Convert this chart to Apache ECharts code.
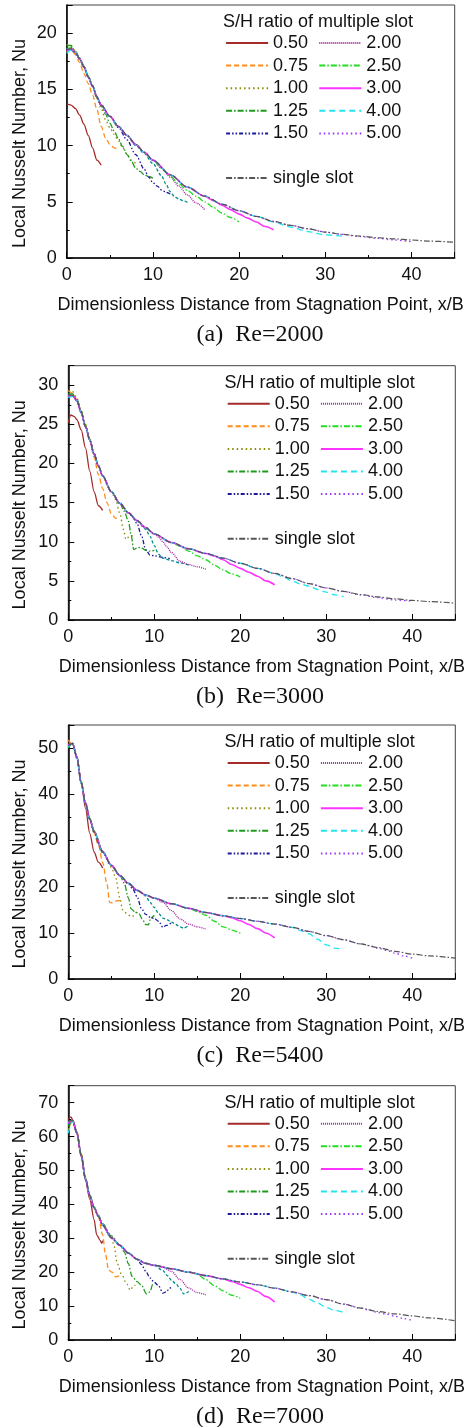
<!DOCTYPE html>
<html>
<head>
<meta charset="utf-8">
<script src="https://cdn.jsdelivr.net/npm/echarts@6/dist/echarts.min.js"></script>
<style>
  html, body { margin: 0; padding: 0; background: #fff; }
  #chart { width: 476px; height: 1427px; }
</style>
</head>
<body>
<div id="chart"></div>
<script>
// x/B positions shared by the single slot curves
const distX = [0,0.5,1,1.5,2,2.5,3,3.5,4,5,6,7,8,9,10,12,14,16,18,20,22,24,26,28,30,32,34,36,38,40,42,45];

// single slot, Nu per panel
const singleA = [18.5,18.6,18.3,17.7,17.0,16.1,15.3,14.3,13.6,12.6,11.7,10.9,10.1,9.4,8.7,7.4,6.3,5.5,4.8,4.2,3.7,3.25,2.9,2.6,2.3,2.1,1.95,1.8,1.7,1.6,1.5,1.4];
const singleB = [28.8,28.7,28.0,26.5,24.7,23.0,21.2,19.7,18.4,16.4,14.9,13.7,12.7,11.8,11.0,9.9,9.1,8.5,7.9,7.25,6.6,5.95,5.3,4.65,4.1,3.65,3.25,2.95,2.7,2.5,2.35,2.15];
const singleC = [50.5,51.0,48.0,42.5,38.0,34.6,31.9,29.4,27.5,24.6,22.4,20.7,19.2,18.2,17.5,16.3,15.3,14.4,13.7,13.1,12.5,11.9,11.2,10.3,9.4,8.5,7.6,6.8,6.0,5.4,5.0,4.5];
const singleD = [64.5,64.8,61.0,54.5,47.5,42.5,39.0,36.5,33.8,30.2,27.9,25.6,23.8,22.6,22.0,21.0,20.0,19.0,18.0,17.1,16.3,15.3,14.2,13.1,11.9,10.6,9.4,8.4,7.7,7.1,6.5,5.7];

// (a) Re=2000, multiple slot curves [x/B, Nu]
const a050 = [[0,13.7],[0.5,13.6],[1,13.3],[1.5,12.7],[2,11.9],[2.5,10.9],[3,9.8],[3.5,8.7],[4,8.25]];
const a075 = [[0,18.3],[0.5,18.5],[1,18.1],[1.5,17.4],[2,16.4],[2.5,15.5],[3,14.5],[3.5,13.2],[4,11.7],[4.5,10.7],[5,10.1],[5.5,9.8],[6,9.6]];
const a100 = [[0,19.0],[0.5,18.8],[1,18.4],[1.5,17.8],[2,17.0],[2.5,16.1],[3,15.2],[3.5,14.2],[4,13.3],[4.5,12.3],[5,11.6],[5.5,11.0],[6,10.4],[6.5,9.8],[7,9.2],[7.5,8.7],[8,8.4]];
const a125 = [[0,18.9],[0.5,18.9],[1,18.4],[1.5,17.8],[2,17.1],[2.5,16.2],[3,15.3],[3.5,14.4],[4,13.5],[4.5,12.8],[5,12.0],[5.5,11.3],[6,10.6],[6.5,9.9],[7,9.2],[7.5,8.6],[8,8.0],[8.5,7.7],[9,7.4],[9.5,7.25],[10,7.1]];
const a150 = [[0,18.6],[0.5,18.6],[1,18.3],[1.5,17.7],[2,17.0],[2.5,16.1],[3,15.3],[3.5,14.3],[4,13.6],[5,12.6],[6,11.6],[7,10.5],[8,9.2],[9,7.9],[9.5,7.2],[10,6.7],[10.5,6.4],[11,6.05],[11.5,5.85],[12,5.7]];
const a175 = [[0,18.4],[0.5,18.5],[1,18.2],[1.5,17.7],[2,17.0],[2.5,16.1],[3,15.3],[3.5,14.3],[4,13.6],[5,12.6],[6,11.7],[7,10.9],[8,10.0],[9,9.3],[10,8.4],[11,7.3],[11.5,6.6],[12,5.9],[12.5,5.45],[13,5.25],[13.5,5.1],[14,4.95]];
const a200 = [[0,18.5],[0.5,18.6],[1,18.3],[1.5,17.7],[2,17.0],[2.5,16.1],[3,15.3],[3.5,14.3],[4,13.6],[5,12.6],[6,11.7],[7,10.9],[8,10.1],[9,9.4],[10,8.7],[11,8.0],[12,7.2],[13,6.4],[14,5.6],[15,4.9],[16,4.3]];
const a250 = [[0,18.6],[0.5,18.7],[1,18.3],[1.5,17.7],[2,17.0],[2.5,16.1],[3,15.3],[3.5,14.3],[4,13.6],[5,12.6],[6,11.7],[7,10.9],[8,10.1],[9,9.4],[10,8.7],[11,8.0],[12,7.3],[13,6.6],[14,6.0],[15,5.5],[16,5.0],[17,4.5],[18,4.0],[19,3.6],[20,3.2]];
const a300 = [[0,18.4],[0.5,18.6],[1,18.3],[1.5,17.7],[2,17.0],[2.5,16.1],[3,15.3],[3.5,14.3],[4,13.6],[5,12.6],[6,11.7],[7,10.9],[8,10.1],[9,9.4],[10,8.7],[12,7.4],[14,6.3],[16,5.5],[17,5.1],[18,4.7],[19,4.3],[20,3.9],[21,3.55],[22,3.2],[23,2.8],[24,2.5]];
const a400 = [[0,18.2],[0.5,18.5],[1,18.3],[1.5,17.7],[2,17.0],[2.5,16.1],[3,15.3],[3.5,14.3],[4,13.6],[5,12.6],[6,11.7],[7,10.9],[8,10.1],[9,9.4],[10,8.7],[12,7.4],[14,6.3],[16,5.5],[18,4.8],[20,4.2],[22,3.7],[24,3.2],[26,2.75],[28,2.35],[30,2.05],[32,1.95]];
const a500 = [[0,18.6],[0.5,18.7],[1,18.3],[1.5,17.7],[2,17.0],[2.5,16.1],[3,15.3],[3.5,14.3],[4,13.6],[5,12.6],[6,11.7],[7,10.9],[8,10.1],[9,9.4],[10,8.7],[12,7.4],[14,6.3],[16,5.5],[18,4.8],[20,4.2],[22,3.7],[24,3.25],[26,2.9],[28,2.6],[30,2.3],[32,2.1],[34,1.9],[36,1.75],[38,1.6],[40,1.45]];

// (b) Re=3000
const b050 = [[0,25.2],[0.3,26.2],[0.7,26.0],[1,25.6],[1.5,24.3],[2,22.0],[2.5,19.0],[3,16.4],[3.5,14.6],[4,14.0]];
const b075 = [[0,29.3],[0.5,29.0],[1,28.2],[1.5,26.7],[2,24.8],[2.5,22.9],[3,20.8],[3.5,18.6],[4,16.8],[4.5,15.0],[5,13.6],[5.5,13.0],[6,13.0]];
const b100 = [[0,29.4],[0.5,29.2],[1,28.3],[1.5,26.8],[2,25.0],[2.5,23.1],[3,21.3],[3.5,19.7],[4,18.4],[4.5,17.3],[5,16.4],[5.5,15.4],[6,13.6],[6.4,11.6],[6.7,10.3],[7.2,10.8],[7.8,10.7]];
const b125 = [[0,28.9],[0.5,28.9],[1,28.2],[1.5,26.7],[2,24.9],[2.5,23.1],[3,21.3],[3.5,19.7],[4,18.4],[5,16.4],[6,14.9],[6.5,13.9],[7,12.6],[7.3,10.9],[7.6,9.0],[8,9.2],[8.4,9.3],[9,8.9],[9.5,8.8],[10,8.9]];
const b150 = [[0,28.5],[0.5,28.6],[1,28.0],[1.5,26.5],[2,24.7],[2.5,23.0],[3,21.2],[3.5,19.7],[4,18.4],[5,16.4],[6,14.9],[7,13.7],[7.5,13.1],[8,12.3],[8.5,10.8],[9,9.0],[9.5,8.3],[10,8.2],[11,8.0],[12,7.8]];
const b175 = [[0,28.6],[0.5,28.7],[1,28.0],[1.5,26.5],[2,24.7],[2.5,23.0],[3,21.2],[3.5,19.7],[4,18.4],[5,16.4],[6,14.9],[7,13.7],[8,12.6],[9,11.6],[9.5,10.7],[10,9.5],[10.5,8.4],[11,7.9],[12,7.6],[13,7.3],[14,7.0]];
const b200 = [[0,28.7],[0.5,28.7],[1,28.0],[1.5,26.5],[2,24.7],[2.5,23.0],[3,21.2],[3.5,19.7],[4,18.4],[5,16.4],[6,14.9],[7,13.7],[8,12.7],[9,11.8],[10,11.0],[10.5,10.6],[11,10.0],[11.5,9.3],[12,8.6],[13,7.5],[14,7.1],[15,6.8],[16,6.5]];
const b250 = [[0,28.8],[0.5,28.8],[1,28.0],[1.5,26.5],[2,24.7],[2.5,23.0],[3,21.2],[3.5,19.7],[4,18.4],[5,16.4],[6,14.9],[7,13.7],[8,12.7],[9,11.8],[10,11.0],[12,9.9],[13,9.4],[14,8.8],[15,8.2],[16,7.7],[17,7.0],[18,6.4],[19,5.9],[20,5.5]];
const b300 = [[0,28.6],[0.5,28.7],[1,28.0],[1.5,26.5],[2,24.7],[2.5,23.0],[3,21.2],[3.5,19.7],[4,18.4],[5,16.4],[6,14.9],[7,13.7],[8,12.7],[9,11.8],[10,11.0],[12,9.9],[14,9.1],[16,8.5],[17,8.2],[18,7.7],[19,7.1],[20,6.6],[21,6.1],[22,5.6],[23,5.0],[24,4.5]];
const b400 = [[0,28.4],[0.5,28.6],[1,28.0],[1.5,26.5],[2,24.7],[2.5,23.0],[3,21.2],[3.5,19.7],[4,18.4],[5,16.4],[6,14.9],[7,13.7],[8,12.7],[9,11.8],[10,11.0],[12,9.9],[14,9.1],[16,8.5],[18,7.9],[20,7.25],[22,6.6],[24,5.95],[25,5.5],[26,5.0],[27,4.6],[28,4.3],[29,3.9],[30,3.55],[31,3.2],[32,3.0]];
const b500 = [[0,28.7],[0.5,28.7],[1,28.0],[1.5,26.5],[2,24.7],[2.5,23.0],[3,21.2],[3.5,19.7],[4,18.4],[5,16.4],[6,14.9],[7,13.7],[8,12.7],[9,11.8],[10,11.0],[12,9.9],[14,9.1],[16,8.5],[18,7.9],[20,7.25],[22,6.6],[24,5.95],[26,5.3],[28,4.65],[30,4.1],[32,3.65],[34,3.2],[36,2.85],[38,2.55],[40,2.4]];

// (c) Re=5400
const c050 = [[0,51.5],[0.5,50.8],[1,48.0],[1.5,42.5],[2,37.0],[2.5,31.5],[3,27.5],[3.5,25.3],[4,24.0]];
const c075 = [[0,51.8],[0.5,50.8],[1,48.0],[1.5,42.6],[2,38.2],[2.5,34.8],[3,31.6],[3.5,29.0],[4,25.2],[4.5,20.5],[4.8,16.6],[5.2,16.5],[5.6,16.9],[6,17.0]];
const c100 = [[0,50.8],[0.5,51.0],[1,47.5],[1.5,42.3],[2,38.0],[2.5,34.5],[3,31.5],[4,27.3],[5,24.2],[5.5,22.0],[6,17.5],[6.3,15.0],[6.8,14.2],[7.3,13.5],[7.6,13.7],[8,14.8]];
const c125 = [[0,50.0],[0.5,51.0],[1,48.2],[1.5,42.8],[2,38.3],[2.5,34.8],[3,32.1],[4,27.7],[5,24.6],[6,22.4],[6.5,20.8],[7,17.5],[7.3,15.2],[7.7,14.6],[8.2,14.2],[8.6,13.0],[9,11.8],[9.3,11.7],[9.6,13.2],[10,13.8]];
const c150 = [[0,50.3],[0.5,51.0],[1,48.0],[1.5,42.5],[2,38.0],[2.5,34.6],[3,31.9],[4,27.5],[5,24.6],[6,22.4],[7,20.6],[7.5,19.5],[8,17.8],[8.5,15.3],[9,14.0],[9.5,13.4],[10,13.1],[10.5,12.5],[11,11.2],[11.4,11.6],[12,12.2]];
const c175 = [[0,50.5],[0.5,51.0],[1,48.0],[1.5,42.5],[2,38.0],[2.5,34.6],[3,31.9],[4,27.5],[5,24.6],[6,22.4],[7,20.7],[8,19.2],[9,18.0],[9.5,16.6],[10,15.5],[10.5,14.2],[11,13.2],[11.5,12.8],[12,12.3],[12.5,11.8],[13,11.3],[13.4,11.0],[14,11.6]];
const c200 = [[0,50.6],[0.5,51.0],[1,48.0],[1.5,42.5],[2,38.0],[2.5,34.6],[3,31.9],[4,27.5],[5,24.6],[6,22.4],[7,20.7],[8,19.2],[9,18.2],[10,17.5],[11,16.6],[12,14.8],[13,13.0],[14,11.9],[15,11.3],[16,10.8]];
const c250 = [[0,50.4],[0.5,51.0],[1,48.0],[1.5,42.5],[2,38.0],[2.5,34.6],[3,31.9],[4,27.5],[5,24.6],[6,22.4],[7,20.7],[8,19.2],[9,18.2],[10,17.5],[12,16.3],[14,15.3],[15,14.6],[16,13.8],[17,12.5],[18,11.3],[19,10.6],[20,9.9]];
const c300 = [[0,50.7],[0.5,51.0],[1,48.0],[1.5,42.5],[2,38.0],[2.5,34.6],[3,31.9],[4,27.5],[5,24.6],[6,22.4],[7,20.7],[8,19.2],[9,18.2],[10,17.5],[12,16.3],[14,15.3],[16,14.4],[18,13.7],[19,13.3],[20,12.6],[21,11.8],[22,10.9],[23,9.9],[24,8.9]];
const c400 = [[0,50.2],[0.5,51.0],[1,48.0],[1.5,42.5],[2,38.0],[2.5,34.6],[3,31.9],[4,27.5],[5,24.6],[6,22.4],[7,20.7],[8,19.2],[9,18.2],[10,17.5],[12,16.3],[14,15.3],[16,14.4],[18,13.7],[20,13.1],[22,12.5],[24,11.9],[26,11.2],[27,10.5],[28,9.8],[29,8.6],[30,7.4],[31,6.7],[32,6.3]];
const c500 = [[0,50.6],[0.5,51.0],[1,48.0],[1.5,42.5],[2,38.0],[2.5,34.6],[3,31.9],[4,27.5],[5,24.6],[6,22.4],[7,20.7],[8,19.2],[9,18.2],[10,17.5],[12,16.3],[14,15.3],[16,14.4],[18,13.7],[20,13.1],[22,12.5],[24,11.9],[26,11.2],[28,10.3],[30,9.4],[32,8.5],[34,7.6],[35,7.2],[36,6.7],[37,6.2],[38,5.6],[39,5.0],[40,4.5]];

// (d) Re=7000
const d050 = [[0,65.0],[0.3,65.8],[0.6,64.5],[1,61.0],[1.5,54.0],[2,47.0],[2.5,41.5],[3,35.5],[3.3,31.0],[3.7,29.4],[3.9,28.5],[4,29.3]];
const d075 = [[0,64.0],[0.5,64.5],[1,61.5],[1.5,55.0],[2,47.5],[2.5,42.5],[3,39.0],[3.5,36.3],[4,31.0],[4.3,25.5],[4.7,20.6],[5.1,20.0],[5.5,18.6],[6,19.0]];
const d100 = [[0,62.0],[0.5,64.5],[1,61.0],[1.5,54.5],[2,47.5],[2.5,42.5],[3,39.0],[3.5,36.5],[4,33.8],[5,30.2],[5.3,28.0],[5.7,22.5],[6.2,19.3],[6.8,16.5],[7.2,14.7],[7.6,16.0],[7.8,16.2]];
const d125 = [[0,63.0],[0.5,64.6],[1,61.2],[1.5,54.8],[2,47.8],[2.5,42.8],[3,39.3],[3.5,36.8],[4,34.3],[5,30.7],[6,28.0],[6.5,26.0],[7,22.5],[7.4,18.8],[8,17.2],[8.5,16.2],[9.1,13.6],[9.5,14.2],[9.8,16.3],[10,16.0]];
const d150 = [[0,64.0],[0.5,64.8],[1,61.0],[1.5,54.5],[2,47.5],[2.5,42.5],[3,39.0],[3.5,36.5],[4,33.8],[5,30.2],[6,27.9],[7,25.6],[8,23.8],[8.5,22.3],[9,20.3],[9.5,18.3],[10,17.0],[10.5,16.0],[11,13.8],[11.4,14.2],[11.8,15.3],[12,15.5]];
const d175 = [[0,63.5],[0.5,64.8],[1,61.0],[1.5,54.5],[2,47.5],[2.5,42.5],[3,39.0],[3.5,36.5],[4,33.8],[5,30.2],[6,27.9],[7,25.6],[8,23.8],[9,22.6],[10,22.0],[11,20.5],[11.5,19.0],[12,17.6],[12.5,16.6],[13,15.2],[13.4,13.6],[14,14.3]];
const d200 = [[0,64.2],[0.5,64.8],[1,61.0],[1.5,54.5],[2,47.5],[2.5,42.5],[3,39.0],[3.5,36.5],[4,33.8],[5,30.2],[6,27.9],[7,25.6],[8,23.8],[9,22.6],[10,22.0],[11,21.4],[12,20.2],[13,17.8],[14,15.3],[15,14.0],[16,13.3]];
const d250 = [[0,64.3],[0.5,64.8],[1,61.0],[1.5,54.5],[2,47.5],[2.5,42.5],[3,39.0],[3.5,36.5],[4,33.8],[5,30.2],[6,27.9],[7,25.6],[8,23.8],[9,22.6],[10,22.0],[12,21.0],[14,20.0],[15,19.3],[16,17.8],[17,16.0],[18,14.5],[19,13.2],[20,12.3]];
const d300 = [[0,64.0],[0.5,64.8],[1,61.0],[1.5,54.5],[2,47.5],[2.5,42.5],[3,39.0],[3.5,36.5],[4,33.8],[5,30.2],[6,27.9],[7,25.6],[8,23.8],[9,22.6],[10,22.0],[12,21.0],[14,20.0],[16,19.0],[18,18.0],[19,17.3],[20,16.4],[21,15.4],[22,14.3],[23,12.8],[24,11.2]];
const d400 = [[0,61.0],[0.5,64.5],[1,61.0],[1.5,54.5],[2,47.5],[2.5,42.5],[3,39.0],[3.5,36.5],[4,33.8],[5,30.2],[6,27.9],[7,25.6],[8,23.8],[9,22.6],[10,22.0],[12,21.0],[14,20.0],[16,19.0],[18,18.0],[20,17.1],[22,16.3],[24,15.3],[26,14.2],[27,13.3],[28,12.0],[29,10.9],[30,9.6],[31,8.7],[32,8.1]];
const d500 = [[0,63.8],[0.5,64.8],[1,61.0],[1.5,54.5],[2,47.5],[2.5,42.5],[3,39.0],[3.5,36.5],[4,33.8],[5,30.2],[6,27.9],[7,25.6],[8,23.8],[9,22.6],[10,22.0],[12,21.0],[14,20.0],[16,19.0],[18,18.0],[20,17.1],[22,16.3],[24,15.3],[26,14.2],[28,13.1],[30,11.9],[32,10.6],[34,9.4],[35,8.8],[36,8.1],[37,7.6],[38,7.0],[39,6.3],[40,5.8]];

const slotNames = ['0.50','0.75','1.00','1.25','1.50','1.75','2.00','2.50','3.00','4.00','5.00'];
const legendCol1 = ['0.50','0.75','1.00','1.25','1.50'];
const legendCol2 = ['2.00','2.50','3.00','4.00','5.00'];
const captions = ['(a)  Re=2000','(b)  Re=3000','(c)  Re=5400','(d)  Re=7000'];
const yMax = [22.5, 32.5, 55, 75];
const yStep = [5, 5, 10, 10];
const xMax = 45, xStep = 10;

const curves = [
  [a050,a075,a100,a125,a150,a175,a200,a250,a300,a400,a500],
  [b050,b075,b100,b125,b150,b175,b200,b250,b300,b400,b500],
  [c050,c075,c100,c125,c150,c175,c200,c250,c300,c400,c500],
  [d050,d075,d100,d125,d150,d175,d200,d250,d300,d400,d500]
];
const singles = [singleA, singleB, singleC, singleD];

// line look per S/H ratio
const styles = {
  '0.50': { color: '#a52a2a', type: 'solid' },
  '0.75': { color: '#ff8c1a', type: [5, 3] },
  '1.00': { color: '#8b8b00', type: [1.5, 3] },
  '1.25': { color: '#1f9a1f', type: [6, 2, 1.5, 2] },
  '1.50': { color: '#1a1a9a', type: [4, 2, 1.5, 2, 1.5, 2] },
  '1.75': { color: '#008b8b', type: [3, 2] },
  '2.00': { color: '#a020a0', type: [1, 1] },
  '2.50': { color: '#22dd22', type: [6, 2, 1.5, 2] },
  '3.00': { color: '#ff33ff', type: 'solid' },
  '4.00': { color: '#22e5f0', type: [6, 4] },
  '5.00': { color: '#9933ff', type: [1.5, 3] },
  'single slot': { color: '#555555', type: [6, 2, 1.5, 2] }
};

const FONT = 'Liberation Sans, Arial, sans-serif';
const gTop = [5, 365.7, 725, 1085.7];
const gH = [253, 254.3, 254, 254.3];
const gLeft = [66.7, 68.3, 68.3, 68.3];
const gW = [388, 387, 387, 387];

var chart = echarts.init(document.getElementById('chart'));

var grids = [], xAxes = [], yAxes = [], series = [], legends = [], graphics = [];

for (var p = 0; p < 4; p++) {
  grids.push({
    left: gLeft[p], top: gTop[p], width: gW[p], height: gH[p],
    show: true, borderColor: '#444', borderWidth: 1, backgroundColor: 'transparent'
  });
  xAxes.push({
    type: 'value', gridIndex: p, min: 0, max: xMax, interval: xStep,
    axisLine: { onZero: false, lineStyle: { color: '#000', width: 1.5 } },
    axisTick: { inside: true, length: 6, lineStyle: { color: '#000' } },
    minorTick: { show: true, splitNumber: 2, length: 3, lineStyle: { color: '#000' } },
    splitLine: { show: false },
    axisLabel: {
      color: '#111', fontSize: 18, fontFamily: FONT, margin: 8,
      formatter: function (v) { return v % xStep === 0 ? String(v) : ''; }
    }
  });
  (function (step) {
    yAxes.push({
      type: 'value', gridIndex: p, min: 0, max: yMax[p], interval: step,
      axisLine: { onZero: false, lineStyle: { color: '#000', width: 1.5 } },
      axisTick: { inside: true, length: 6, lineStyle: { color: '#000' } },
      minorTick: { show: true, splitNumber: 2, length: 3, lineStyle: { color: '#000' } },
      splitLine: { show: false },
      axisLabel: {
        color: '#111', fontSize: 18, fontFamily: FONT, margin: 10,
        formatter: function (v) { return v % step === 0 ? String(v) : ''; }
      }
    });
  })(yStep[p]);

  slotNames.forEach(function (name, k) {
    var st = styles[name];
    series.push({
      type: 'line', name: name, xAxisIndex: p, yAxisIndex: p,
      data: curves[p][k], symbol: 'none', showSymbol: false,
      smooth: 0.3, smoothMonotone: 'x',
      lineStyle: { color: st.color, type: st.type, width: name === '3.00' ? 1.6 : 1.3 },
      itemStyle: { color: st.color }
    });
  });
  series.push({
    type: 'line', name: 'single slot', xAxisIndex: p, yAxisIndex: p,
    data: distX.map(function (x, i) { return [x, singles[p][i]]; }),
    symbol: 'none', showSymbol: false, smooth: 0.3, smoothMonotone: 'x',
    lineStyle: { color: styles['single slot'].color, type: styles['single slot'].type, width: 1.2 },
    itemStyle: { color: styles['single slot'].color }
  });

  var legendBase = {
    orient: 'vertical', padding: 0, itemGap: 4.6, itemWidth: 42, itemHeight: 18,
    selectedMode: false, lineStyle: { width: 2 }, itemStyle: { opacity: 0 },
    textStyle: { fontSize: 18, fontFamily: FONT, color: '#111', lineHeight: 18 }
  };
  legends.push(Object.assign({}, legendBase, { left: gLeft[p] + 158.4, top: gTop[p] + 38 - 9, data: legendCol1 }));
  legends.push(Object.assign({}, legendBase, { left: gLeft[p] + 251.6, top: gTop[p] + 38 - 9, data: legendCol2 }));
  legends.push(Object.assign({}, legendBase, { left: gLeft[p] + 158.4, top: gTop[p] + 173 - 9, data: ['single slot'] }));

  graphics.push({
    type: 'text', x: gLeft[p] + 156.3, y: gTop[p] + 17,
    style: { text: 'S/H ratio of multiple slot', fontSize: 18, fontFamily: FONT, fill: '#111', align: 'left', verticalAlign: 'middle' }
  });
  graphics.push({
    type: 'text', x: gLeft[p] + gW[p] / 2, y: gTop[p] + gH[p] + 47,
    style: { text: 'Dimensionless Distance from Stagnation Point, x/B', fontSize: 18, fontFamily: FONT, fill: '#111', align: 'center', verticalAlign: 'middle' }
  });
  graphics.push({
    type: 'text', x: 20.5, y: gTop[p] + gH[p] / 2 + 12, rotation: Math.PI / 2,
    style: { text: 'Local Nusselt Number, Nu', fontSize: 18, fontFamily: FONT, fill: '#111', align: 'center', verticalAlign: 'middle' }
  });
  graphics.push({
    type: 'text', x: 260, y: gTop[p] + gH[p] + 77,
    style: { text: captions[p], fontSize: 24, fontFamily: 'Liberation Serif, DejaVu Serif, serif', fill: '#111', align: 'center', verticalAlign: 'middle' }
  });
}

var option = {
  backgroundColor: '#fff',
  animation: false,
  grid: grids,
  xAxis: xAxes,
  yAxis: yAxes,
  legend: legends,
  graphic: graphics,
  series: series
};
option && chart.setOption(option);
</script>
</body>
</html>
